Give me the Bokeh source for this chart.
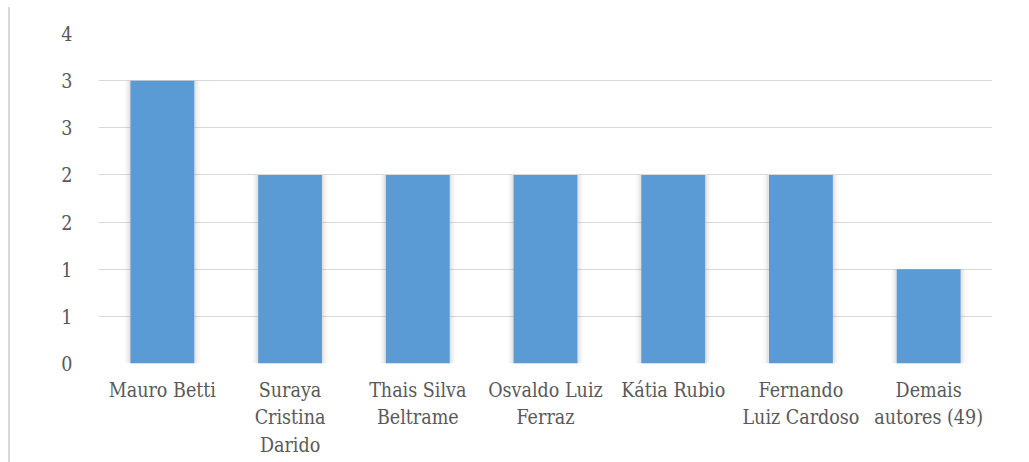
from bokeh.plotting import figure
from bokeh.models import FixedTicker, CustomJSTickFormatter, ColumnDataSource, Range1d
from bokeh.embed import file_html
from bokeh.resources import INLINE

authors = ["Mauro Betti", "Suraya\nCristina\nDarido", "Thais Silva\nBeltrame",
           "Osvaldo Luiz\nFerraz", "Kátia Rubio", "Fernando\nLuiz Cardoso",
           "Demais\nautores (49)"]
counts = [3, 2, 2, 2, 2, 2, 1]
y_ticks = [0, 0.5, 1, 1.5, 2, 2.5, 3, 3.5]

xs = list(range(1, len(authors) + 1))
src = ColumnDataSource(dict(x=xs, top=counts))

p = figure(width=1011, height=455, output_backend="svg", toolbar_location=None,
           x_range=Range1d(0.5, len(authors) + 0.5), y_range=Range1d(0, 3.5),
           min_border_left=88, min_border_right=29, min_border_top=26,
           min_border_bottom=99)
p.styles = {"border-left": "2px solid #d9d9d9", "margin-left": "8px", "margin-top": "7px"}
p.outline_line_color = None

# soft shadow
for i, a in enumerate([0.10, 0.07, 0.04]):
    p.vbar(x=xs, top=counts, width=0.5 + 0.03 * (i + 1), bottom=0,
           fill_color="#7f7f7f", fill_alpha=a, line_color=None)
p.vbar(x="x", top="top", width=0.5, bottom=0, source=src,
       fill_color="#5B9BD5", line_color=None)

p.xaxis.ticker = FixedTicker(ticks=xs)
p.xaxis.major_label_overrides = {x: lab for x, lab in zip(xs, authors)}
p.yaxis.ticker = FixedTicker(ticks=y_ticks)
p.yaxis.formatter = CustomJSTickFormatter(code="return String(Math.round(tick));")

for ax in (p.xaxis[0], p.yaxis[0]):
    ax.axis_line_color = None
    ax.major_tick_line_color = None
    ax.minor_tick_line_color = None
    ax.major_label_text_font_size = "19.5px"
    ax.major_label_text_color = "#595959"
    ax.major_label_text_font = "DejaVu Serif Condensed"
p.xaxis.major_label_standoff = 9
p.yaxis.major_label_standoff = 20

p.xgrid.grid_line_color = None
p.ygrid.ticker = FixedTicker(ticks=y_ticks)
p.ygrid.grid_line_color = "#d9d9d9"
p.ygrid.grid_line_width = 1

open("out.html", "w").write(file_html(p, INLINE))
